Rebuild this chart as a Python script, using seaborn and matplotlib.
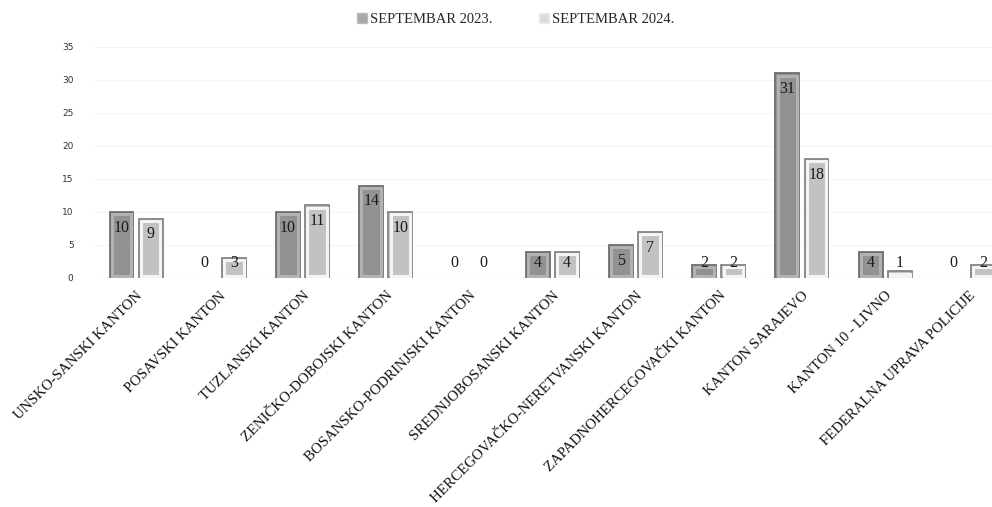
import numpy as np
import pandas as pd
import matplotlib
matplotlib.use("Agg")
import matplotlib.pyplot as plt
import seaborn as sns
from matplotlib.patches import Patch, Rectangle

cantons = ["UNSKO-SANSKI KANTON", "POSAVSKI KANTON", "TUZLANSKI KANTON",
           "ZENIČKO-DOBOJSKI KANTON", "BOSANSKO-PODRINJSKI KANTON",
           "SREDNJOBOSANSKI KANTON", "HERCEGOVAČKO-NERETVANSKI KANTON",
           "ZAPADNOHERCEGOVAČKI KANTON", "KANTON SARAJEVO", "KANTON 10 - LIVNO",
           "FEDERALNA UPRAVA POLICIJE"]
sep_2023 = [10, 0, 10, 14, 0, 4, 5, 2, 31, 4, 0]
sep_2024 = [9, 3, 11, 10, 0, 4, 7, 2, 18, 1, 2]
series = ["SEPTEMBAR 2023.", "SEPTEMBAR 2024."]
y_ticks = [0, 5, 10, 15, 20, 25, 30, 35]

df = pd.DataFrame({
    "kanton": cantons * 2,
    "period": [series[0]] * len(cantons) + [series[1]] * len(cantons),
    "value": sep_2023 + sep_2024,
})

sns.set_style("white")
serif = ["Liberation Serif", "DejaVu Serif"]

fill = {series[0]: "#929292", series[1]: "#c2c2c2"}
edge = {series[0]: "#6e6e6e", series[1]: "#858585"}
rim = {series[0]: "#b2b2b2", series[1]: "#f4f4f4"}

fig = plt.figure(figsize=(9.92, 5.07), dpi=100)
ax = fig.add_axes([0.0952, 0.4517, 0.923, 0.4556])

sns.barplot(data=df, x="kanton", y="value", hue="period", hue_order=series,
            palette=fill, width=0.7, gap=0.18, ax=ax, legend=False)

ax.set_ylim(0, 35)
ax.set_xlim(-0.5, len(cantons) - 0.5)

# size of one pixel in data units, for the inner rim of the bars
px_x = (len(cantons)) / (0.923 * 992)
px_y = 35 / (0.4556 * 507)

for cont, s in zip(ax.containers, series):
    vals = sep_2023 if s == series[0] else sep_2024
    for bar, v in zip(cont, vals):
        bar.set_zorder(3)
        if v == 0:
            bar.set_linewidth(0)
        else:
            bar.set_edgecolor(edge[s])
            bar.set_linewidth(1.3)
            x0, y0 = bar.get_xy()
            w, h = bar.get_width(), bar.get_height()
            ax.add_patch(Rectangle((x0 + 2.2 * px_x, y0 + 1.5 * px_y),
                                   w - 4.4 * px_x, h - 3.7 * px_y,
                                   fill=False, edgecolor=rim[s],
                                   linewidth=2.2, zorder=4))
        cx = bar.get_x() + bar.get_width() / 2
        ypos = max(v - 2.4, 2.3)
        ax.text(cx, ypos, str(v), ha="center", va="center", fontsize=11.5,
                family=serif, color="#1a1a1a", zorder=5)

ax.set_yticks(y_ticks)
ax.set_yticklabels([str(t) for t in y_ticks], fontsize=6.5, color="#333333")
ax.tick_params(axis="y", length=0, pad=15)
ax.tick_params(axis="x", length=0, pad=8)
ax.set_xticks(range(len(cantons)))
ax.set_xticklabels(cantons, rotation=45, ha="right", rotation_mode="anchor",
                   fontsize=10.6, family=serif, color="#111111")
ax.set_xlabel("")
ax.set_ylabel("")
ax.grid(axis="y", color="#f5f5f5", linewidth=0.8, zorder=0)
ax.set_axisbelow(True)
for sp in ax.spines.values():
    sp.set_visible(False)
ax.axhline(0, color="#ebebeb", linewidth=0.8, zorder=1)

handles = [Patch(facecolor="#a8a8a8", edgecolor="#bdbdbd"),
           Patch(facecolor="#dcdcdc", edgecolor="#ececec")]
fig.legend(handles, series, loc="upper center", bbox_to_anchor=(0.52, 1.0),
           ncol=2, frameon=False, prop={"family": serif, "size": 10.5},
           handlelength=0.7, handleheight=0.7, handletextpad=0.2,
           columnspacing=3.2)

fig.savefig("out.png", dpi=100)
